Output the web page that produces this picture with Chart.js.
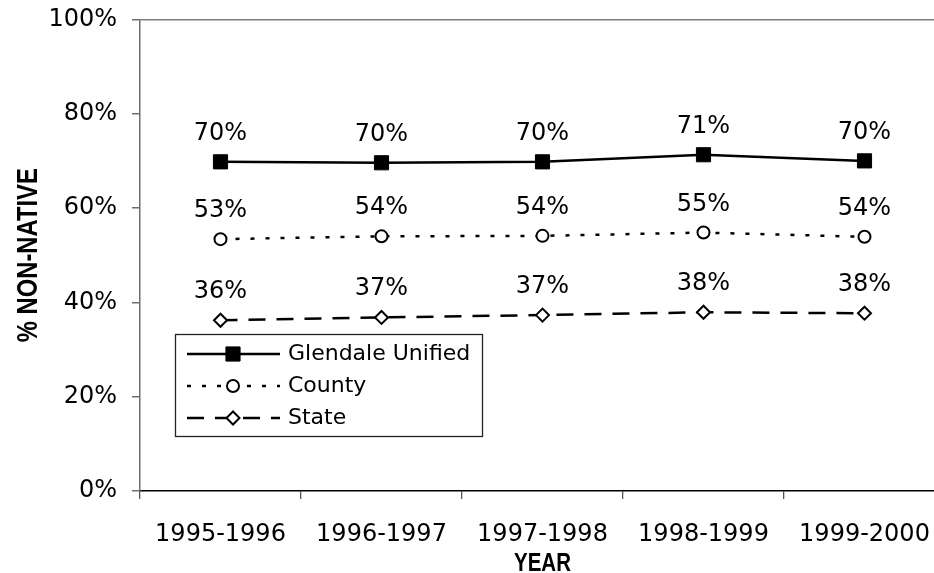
<!DOCTYPE html>
<html lang="en">
<head>
<meta charset="UTF-8">
<title>% NON-NATIVE BY YEAR</title>
<script src="https://cdn.jsdelivr.net/npm/chart.js"></script>
<style>
    body {
        margin: 0;
        padding: 0;
        background: #fff;
        overflow: hidden;
    }
    /* wider than the window (plot runs past the right edge like the original),
       and pulled up 10px so the 100% line sits near the top */
    #wrap {
        width: 960px;
        height: 583px;
        margin-top: -10px;
    }
</style>
</head>
<body>
<div id="wrap"><canvas id="nonNativeChart" width="960" height="583"></canvas></div>
<script>
// values (percent)
const years = ['1995-1996', '1996-1997', '1997-1998', '1998-1999', '1999-2000'];
const glendale = [69.8, 69.6, 69.8, 71.3, 70.0];
const county = [53.4, 54.0, 54.1, 54.8, 53.9];
const state = [36.2, 36.8, 37.3, 37.9, 37.7];
const yTicks = [0, 20, 40, 60, 80, 100];
const seriesNames = ['Glendale Unified', 'County', 'State'];
const xTitle = 'YEAR';
const yTitle = '% NON-NATIVE';

const SHIFT = 10; // canvas is moved up by this much

Chart.defaults.font.family = '"DejaVu Sans", sans-serif';
Chart.defaults.color = '#000';

// value labels above each point
const valueLabels = {
    id: 'valueLabels',
    afterDatasetsDraw(chart) {
        const ctx = chart.ctx;
        ctx.save();
        ctx.font = '24px "DejaVu Sans", sans-serif';
        ctx.fillStyle = '#000';
        ctx.textAlign = 'center';
        ctx.textBaseline = 'alphabetic';
        chart.data.datasets.forEach((ds, i) => {
            chart.getDatasetMeta(i).data.forEach((pt, j) => {
                ctx.fillText(Math.round(ds.data[j]) + '%', pt.x, pt.y - 22);
            });
        });
        ctx.restore();
    }
};

// axis titles in a narrow bold face (no condensed font installed, so squeeze Liberation Sans)
const narrowTitles = {
    id: 'narrowTitles',
    afterDraw(chart) {
        const ctx = chart.ctx;
        const area = chart.chartArea;
        ctx.save();
        ctx.fillStyle = '#000';
        ctx.textAlign = 'center';
        ctx.textBaseline = 'alphabetic';

        ctx.save();
        ctx.font = 'bold 25px "Liberation Sans", sans-serif';
        ctx.translate((area.left + area.right) / 2, 571 + SHIFT);
        ctx.scale(0.82, 1);
        ctx.fillText(xTitle, 0, 0);
        ctx.restore();

        ctx.save();
        ctx.font = 'bold 29px "Liberation Sans", sans-serif';
        ctx.translate(37, (area.top + area.bottom) / 2);
        ctx.rotate(-Math.PI / 2);
        ctx.scale(0.82, 1);
        ctx.fillText(yTitle, 0, 0);
        ctx.restore();

        ctx.restore();
    }
};

// boxed legend sitting inside the plot, lower left
const boxLegend = {
    id: 'boxLegend',
    afterDraw(chart) {
        const ctx = chart.ctx;
        const left = 175, top = 334 + SHIFT, w = 307, h = 102;
        ctx.save();
        ctx.fillStyle = '#fff';
        ctx.fillRect(left, top, w, h);
        ctx.strokeStyle = '#222';
        ctx.lineWidth = 1.3;
        ctx.strokeRect(left + 0.5, top + 0.5, w, h);

        chart.data.datasets.forEach((ds, i) => {
            const y = top + 20 + i * 32;
            ctx.strokeStyle = ds.borderColor;
            ctx.lineWidth = ds.borderWidth;
            ctx.setLineDash(ds.borderDash || []);
            ctx.beginPath();
            ctx.moveTo(187, y);
            ctx.lineTo(280, y);
            ctx.stroke();
            ctx.setLineDash([]);

            // marker
            const x = 233, r = ds.pointRadius;
            ctx.fillStyle = ds.pointBackgroundColor;
            ctx.strokeStyle = ds.pointBorderColor;
            ctx.lineWidth = ds.pointBorderWidth;
            ctx.beginPath();
            if (ds.pointStyle === 'rect') {
                const s = Math.SQRT1_2 * r;
                ctx.rect(x - s, y - s, 2 * s, 2 * s);
            } else if (ds.pointStyle === 'rectRot') {
                ctx.moveTo(x - r, y);
                ctx.lineTo(x, y - r);
                ctx.lineTo(x + r, y);
                ctx.lineTo(x, y + r);
                ctx.closePath();
            } else {
                ctx.arc(x, y, r, 0, Math.PI * 2);
            }
            ctx.fill();
            ctx.stroke();

            ctx.fillStyle = '#000';
            ctx.font = '22px "DejaVu Sans", sans-serif';
            ctx.textAlign = 'left';
            ctx.textBaseline = 'middle';
            ctx.fillText(ds.label, 288, y);
        });
        ctx.restore();
    }
};

new Chart(document.getElementById('nonNativeChart'), {
    type: 'line',
    data: {
        labels: years,
        datasets: [
            {
                label: seriesNames[0],
                data: glendale,
                borderColor: '#000',
                borderWidth: 2.5,
                pointStyle: 'rect',
                pointRadius: 10,
                pointHoverRadius: 10,
                pointBackgroundColor: '#000',
                pointBorderColor: '#000',
                pointBorderWidth: 1
            },
            {
                label: seriesNames[1],
                data: county,
                borderColor: '#000',
                borderWidth: 2.5,
                borderDash: [4, 11],
                pointStyle: 'circle',
                pointRadius: 6,
                pointHoverRadius: 6,
                pointBackgroundColor: '#fff',
                pointBorderColor: '#000',
                pointBorderWidth: 2
            },
            {
                label: seriesNames[2],
                data: state,
                borderColor: '#000',
                borderWidth: 2.5,
                borderDash: [17, 11],
                pointStyle: 'rectRot',
                pointRadius: 6.5,
                pointHoverRadius: 6.5,
                pointBackgroundColor: '#fff',
                pointBorderColor: '#000',
                pointBorderWidth: 2
            }
        ]
    },
    options: {
        responsive: false,
        animation: false,
        layout: {
            padding: { top: 0, right: 15, left: 0, bottom: 0 }
        },
        plugins: {
            legend: { display: false },
            tooltip: { enabled: false }
        },
        scales: {
            x: {
                offset: true,
                grid: {
                    offset: true,
                    drawOnChartArea: false,
                    color: '#555',
                    tickLength: 8,
                    lineWidth: 1.3
                },
                border: { color: '#000', width: 1.5 },
                ticks: {
                    font: { size: 24 },
                    padding: 21,
                    maxRotation: 0,
                    autoSkip: false
                },
                afterFit(scale) { scale.height = 82; }
            },
            y: {
                min: 0,
                max: 100,
                afterBuildTicks(scale) {
                    scale.ticks = yTicks.map(v => ({ value: v }));
                },
                grid: {
                    color: ctx => ctx.tick && ctx.tick.value === 100 ? '#808080' : 'rgba(0,0,0,0)',
                    tickColor: '#6e6e6e',
                    tickLength: 8,
                    lineWidth: 1.5
                },
                border: { color: '#6e6e6e', width: 1.5 },
                ticks: {
                    font: { size: 24 },
                    padding: 15,
                    callback: v => v + '%'
                },
                afterFit(scale) { scale.width = 140; }
            }
        }
    },
    plugins: [valueLabels, boxLegend, narrowTitles]
});
</script>
</body>
</html>
